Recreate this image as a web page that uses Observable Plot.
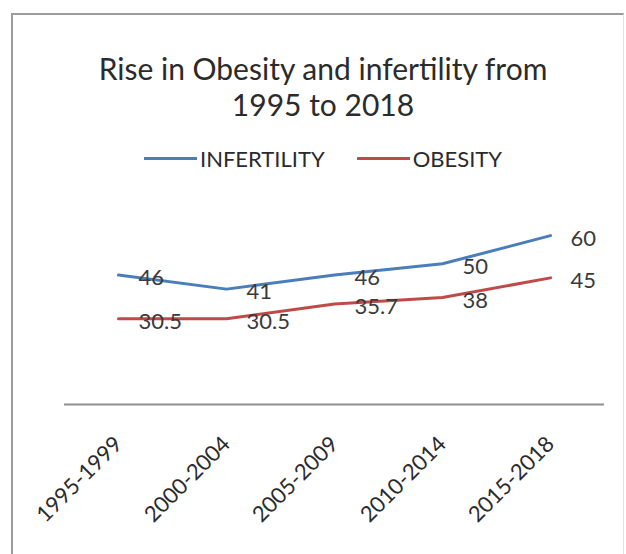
<!DOCTYPE html>
<html>
<head>
<meta charset="utf-8">
<script src="https://cdn.jsdelivr.net/npm/d3@7"></script>
<script src="https://cdn.jsdelivr.net/npm/@observablehq/plot@0.6"></script>
<style>
  body { margin: 0; background: #fff; }
  #chart { position: relative; width: 626px; height: 554px; overflow: hidden; font-family: Lato, "Open Sans", sans-serif; color: #2b2b2b; background: #fff; }
  #frame { position: absolute; left: 11px; top: 13px; width: 610px; height: 600px; border-left: 2px solid #9c9c9c; border-top: 2px solid #9c9c9c; border-right: 1px solid #e2e2e2; }
  #title { position: absolute; left: 20px; width: 606px; top: 50px; text-align: center; font-size: 30px; line-height: 36px; }
  #legend { position: absolute; left: 20px; width: 606px; top: 144px; height: 28px; display: flex; justify-content: center; align-items: center; font-size: 22px; }
  #legend .item { display: flex; align-items: center; margin: 0 16px; }
  #legend .sw { display: inline-block; width: 53px; height: 3px; margin-right: 3px; }
  #plot { position: absolute; left: 0; top: 190px; }
</style>
</head>
<body>
<div id="chart">
  <div id="frame"></div>
  <div id="title">Rise in Obesity and infertility from<br>1995 to 2018</div>
  <div id="legend"></div>
  <div id="plot"></div>
</div>
<script>
// Five-year periods on the x axis
const periods = ["1995-1999", "2000-2004", "2005-2009", "2010-2014", "2015-2018"];
// Series values per period
const infertility = [46, 41, 46, 50, 60];
const obesity = [30.5, 30.5, 35.7, 38, 45];
// Series names and their colours
const seriesNames = ["INFERTILITY", "OBESITY"];
const seriesColors = ["#4a7ebb", "#be4b48"];

const rows = [
  ...periods.map((p, i) => ({period: p, value: infertility[i], series: seriesNames[0]})),
  ...periods.map((p, i) => ({period: p, value: obesity[i], series: seriesNames[1]}))
];

// Legend
const legend = document.getElementById("legend");
seriesNames.forEach((name, i) => {
  const item = document.createElement("span");
  item.className = "item";
  const sw = document.createElement("span");
  sw.className = "sw";
  sw.style.background = seriesColors[i];
  const label = document.createElement("span");
  label.textContent = name;
  item.append(sw, label);
  legend.append(item);
});

const chart = Plot.plot({
  width: 626,
  height: 364,
  marginLeft: 64,
  marginRight: 22,
  marginTop: 17,
  marginBottom: 150,
  style: {fontFamily: "Lato, 'Open Sans', sans-serif", background: "transparent", overflow: "visible"},
  x: {type: "point", domain: periods, padding: 0.5},
  y: {domain: [0, 70], axis: null},
  color: {domain: seriesNames, range: seriesColors},
  marks: [
    Plot.ruleY([0], {stroke: "#8f8f8f", strokeWidth: 2}),
    Plot.line(rows, {x: "period", y: "value", z: "series", stroke: "series", strokeWidth: 3}),
    Plot.text(rows, {x: "period", y: "value", text: d => String(d.value), textAnchor: "start", dx: 20, dy: 3, fontSize: 22, fill: "#3a3a3a"}),
    Plot.axisX({tickSize: 0, tickPadding: 36, tickRotate: -45, fontSize: 22, fill: "#2b2b2b", label: null})
  ]
});
document.getElementById("plot").append(chart);
</script>
</body>
</html>
